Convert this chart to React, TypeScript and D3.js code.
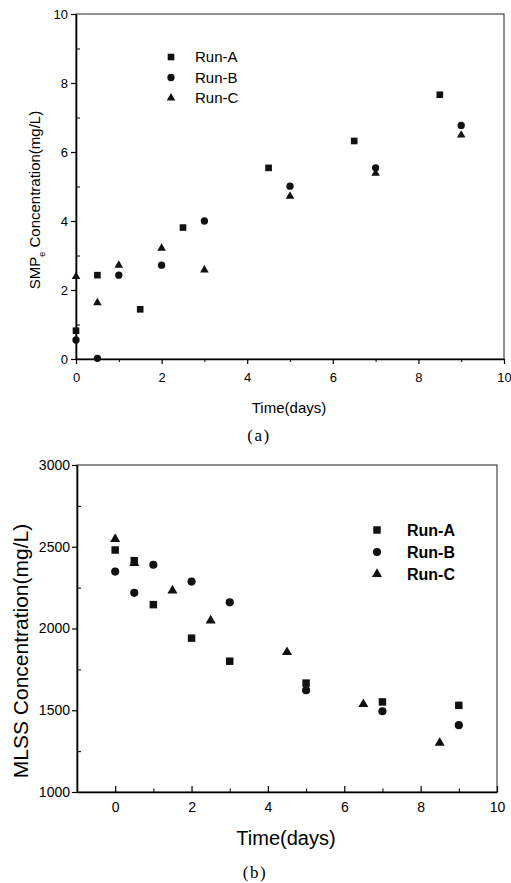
import React, { useEffect, useRef } from "react";
import * as d3 from "d3";

// (a) SMPe concentration, mg/L
const smpDaysA = [0, 0.5, 1.5, 2.5, 4.5, 6.5, 8.5];
const smpRunA = [0.82, 2.43, 1.44, 3.81, 5.54, 6.32, 7.66];
const smpDaysB = [0, 0.5, 1, 2, 3, 5, 7, 9];
const smpRunB = [0.55, 0.02, 2.43, 2.72, 4.0, 5.01, 5.54, 6.77];
const smpDaysC = [0, 0.5, 1, 2, 3, 5, 7, 9];
const smpRunC = [2.39, 1.63, 2.72, 3.21, 2.58, 4.72, 5.38, 6.49];

// (b) MLSS concentration, mg/L
const mlssDaysA = [0, 0.5, 1, 2, 3, 5, 7, 9];
const mlssRunA = [2480, 2415, 2146, 1941, 1800, 1666, 1551, 1530];
const mlssDaysB = [0, 0.5, 1, 2, 3, 5, 7, 9];
const mlssRunB = [2348, 2218, 2390, 2287, 2160, 1622, 1494, 1409];
const mlssDaysC = [0, 0.5, 1.5, 2.5, 4.5, 6.5, 8.5];
const mlssRunC = [2547, 2400, 2232, 2049, 1855, 1537, 1300];

const runNames = ["Run-A", "Run-B", "Run-C"];
const smpXTicks = [0, 2, 4, 6, 8, 10];
const smpYTicks = [0, 2, 4, 6, 8, 10];
const mlssXTicks = [0, 2, 4, 6, 8, 10];
const mlssYTicks = [1000, 1500, 2000, 2500, 3000];

const FONT = "'Liberation Sans', Arial, sans-serif";
const SERIF = "'Liberation Serif', 'DejaVu Serif', serif";
const symbols = [d3.symbolSquare, d3.symbolCircle, d3.symbolTriangle];

function drawPanel(svg, cfg) {
  const x = d3.scaleLinear().domain(cfg.xDomain).range(cfg.xRange);
  const y = d3.scaleLinear().domain(cfg.yDomain).range(cfg.yRange);
  const g = svg.append("g");

  // frame
  g.append("rect")
    .attr("x", cfg.xRange[0])
    .attr("y", cfg.yRange[1])
    .attr("width", cfg.xRange[1] - cfg.xRange[0])
    .attr("height", cfg.yRange[0] - cfg.yRange[1])
    .attr("fill", "none")
    .attr("stroke", "#222")
    .attr("stroke-width", 1);

  // x axis
  const xAxis = g
    .append("g")
    .attr("transform", `translate(0,${cfg.yRange[0]})`)
    .call(
      d3
        .axisBottom(x)
        .tickValues(cfg.xTicks)
        .tickSizeOuter(0)
        .tickSizeInner(cfg.xTickSize)
        .tickPadding(cfg.xPad)
        .tickFormat(d3.format("d"))
    );
  xAxis.select(".domain").attr("stroke", "#000").attr("stroke-width", 1.6);
  xAxis.selectAll("line").attr("stroke", "#000").attr("stroke-width", 1.2);
  xAxis.selectAll("text").attr("font-family", FONT).attr("font-size", cfg.tickFont).attr("fill", "#000");

  g.append("g")
    .attr("transform", `translate(0,${cfg.yRange[0]})`)
    .call(
      d3
        .axisBottom(x)
        .tickValues(cfg.xMinor)
        .tickSizeOuter(0)
        .tickSizeInner(cfg.xTickSize * 0.6)
        .tickFormat(() => "")
    )
    .call((a) => a.select(".domain").remove())
    .selectAll("line")
    .attr("stroke", "#000");

  // y axis
  const yAxis = g
    .append("g")
    .attr("transform", `translate(${cfg.xRange[0]},0)`)
    .call(
      d3
        .axisLeft(y)
        .tickValues(cfg.yTicks)
        .tickSizeOuter(0)
        .tickSizeInner(5)
        .tickPadding(cfg.yPad)
        .tickFormat(d3.format("d"))
    );
  yAxis.select(".domain").attr("stroke", "#000").attr("stroke-width", 1.6);
  yAxis.selectAll("line").attr("stroke", "#000").attr("stroke-width", 1.2);
  yAxis.selectAll("text").attr("font-family", FONT).attr("font-size", cfg.tickFont).attr("fill", "#000");

  g.append("g")
    .attr("transform", `translate(${cfg.xRange[0]},0)`)
    .call(
      d3
        .axisLeft(y)
        .tickValues(cfg.yMinor)
        .tickSizeOuter(0)
        .tickSizeInner(-4)
        .tickFormat(() => "")
    )
    .call((a) => a.select(".domain").remove())
    .selectAll("line")
    .attr("stroke", "#000");

  // points
  cfg.series.forEach((s, idx) => {
    const sym = d3.symbol().type(symbols[idx]).size(cfg.sizes[idx]);
    g.append("g")
      .selectAll("path")
      .data(s.values)
      .join("path")
      .attr("transform", (d, i) => `translate(${x(s.days[i])},${y(d)})`)
      .attr("d", sym)
      .attr("fill", "#111");
  });

  // legend
  runNames.forEach((name, idx) => {
    const ly = cfg.legendY + idx * cfg.legendStep;
    g.append("path")
      .attr("transform", `translate(${cfg.legendX},${ly})`)
      .attr("d", d3.symbol().type(symbols[idx]).size(cfg.sizes[idx])())
      .attr("fill", "#111");
    g.append("text")
      .attr("x", cfg.legendX + cfg.legendGap)
      .attr("y", ly + cfg.legendFont * 0.36)
      .attr("font-family", FONT)
      .attr("font-size", cfg.legendFont)
      .attr("font-weight", cfg.legendWeight)
      .text(name);
  });

  // x title
  g.append("text")
    .attr("x", cfg.xTitleX)
    .attr("y", cfg.xTitleY)
    .attr("text-anchor", "middle")
    .attr("font-family", FONT)
    .attr("font-size", cfg.xTitleFont)
    .text("Time(days)");

  // caption
  g.append("text")
    .attr("x", cfg.captionX)
    .attr("y", cfg.captionY)
    .attr("text-anchor", "middle")
    .attr("font-family", SERIF)
    .attr("font-size", 17)
    .attr("letter-spacing", 1.5)
    .text(cfg.caption);

  return g;
}

const App = () => {
  const ref = useRef(null);

  useEffect(() => {
    const svg = d3.select(ref.current);
    svg.selectAll("*").remove();

    const top = drawPanel(svg, {
      xDomain: [0, 10],
      xRange: [76, 504],
      yDomain: [0, 10],
      yRange: [359, 14],
      xTicks: smpXTicks,
      xMinor: [1, 3, 5, 7, 9],
      yTicks: smpYTicks,
      yMinor: [1, 3, 5, 7, 9],
      xTickSize: 5,
      xPad: 9,
      yPad: 3,
      tickFont: 13,
      sizes: [44, 42, 32],
      series: [
        { days: smpDaysA, values: smpRunA },
        { days: smpDaysB, values: smpRunB },
        { days: smpDaysC, values: smpRunC },
      ],
      legendX: 171,
      legendY: 57,
      legendStep: 20.5,
      legendGap: 24,
      legendFont: 15,
      legendWeight: "normal",
      xTitleX: 289,
      xTitleY: 413,
      xTitleFont: 15,
      captionX: 259,
      captionY: 441,
      caption: "(a)",
    });

    const ylab = top
      .append("text")
      .attr("transform", "translate(40,200) rotate(-90)")
      .attr("text-anchor", "middle")
      .attr("font-family", FONT)
      .attr("font-size", 15);
    ylab.append("tspan").text("SMP");
    ylab.append("tspan").attr("font-size", 9).attr("dy", 5).text("e");
    ylab.append("tspan").attr("dy", -5).text(" Concentration(mg/L)");

    const bottom = drawPanel(svg, {
      xDomain: [-1, 10],
      xRange: [77, 497],
      yDomain: [1000, 3000],
      yRange: [792, 465],
      xTicks: mlssXTicks,
      xMinor: [1, 3, 5, 7, 9],
      yTicks: mlssYTicks,
      yMinor: [1250, 1750, 2250, 2750],
      xTickSize: -6,
      xPad: 10,
      yPad: 2,
      tickFont: 14,
      sizes: [56, 52, 44],
      series: [
        { days: mlssDaysA, values: mlssRunA },
        { days: mlssDaysB, values: mlssRunB },
        { days: mlssDaysC, values: mlssRunC },
      ],
      legendX: 377,
      legendY: 530,
      legendStep: 22,
      legendGap: 30,
      legendFont: 16,
      legendWeight: "bold",
      xTitleX: 286,
      xTitleY: 845,
      xTitleFont: 20,
      captionX: 255,
      captionY: 878,
      caption: "(b)",
    });

    bottom
      .append("text")
      .attr("transform", "translate(28,651) rotate(-90)")
      .attr("text-anchor", "middle")
      .attr("font-family", FONT)
      .attr("font-size", 21)
      .text("MLSS Concentration(mg/L)");
  }, []);

  return (
    <div>
      <svg
        ref={ref}
        width={511}
        height={883}
        style={{ position: "absolute", left: 0, top: 0, background: "#fff" }}
      ></svg>
    </div>
  );
};

export default App;
